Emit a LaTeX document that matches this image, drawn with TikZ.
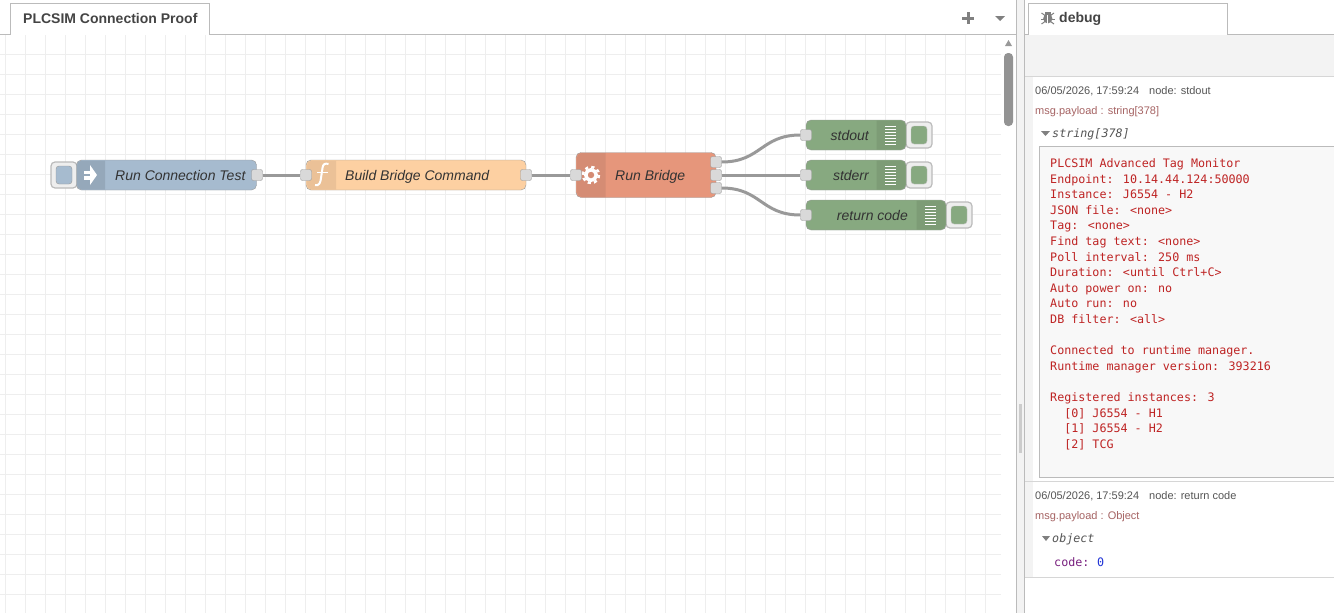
\documentclass[tikz,border=0pt]{standalone}
\usepackage{fontspec}
\setmainfont{Liberation Sans}
\newfontfamily\monofont{DejaVu Sans Mono}

\definecolor{gridgrey}{HTML}{EEEEEE}
\definecolor{edgegrey}{HTML}{BBBBBB}
\definecolor{nodeedge}{HTML}{999999}
\definecolor{panelgrey}{HTML}{F3F3F3}
\definecolor{injectblue}{HTML}{A6BBCF}
\definecolor{injecticon}{HTML}{95A8BA}
\definecolor{funcorange}{HTML}{FDD0A2}
\definecolor{funcicon}{HTML}{EBC197}
\definecolor{execred}{HTML}{E6967B}
\definecolor{execicon}{HTML}{D58C74}
\definecolor{debuggreen}{HTML}{87A980}
\definecolor{debugicon}{HTML}{7D9C76}
\definecolor{textgrey}{HTML}{333333}
\definecolor{tabtext}{HTML}{444444}
\definecolor{metagrey}{HTML}{555555}
\definecolor{msgbrown}{HTML}{A66464}
\definecolor{monored}{HTML}{BE2323}
\definecolor{keypurple}{HTML}{79217F}
\definecolor{valblue}{HTML}{2033D6}

\tikzset{
	flownode/.style={draw=nodeedge, rounded corners=5, inner sep=0, minimum height=30},
	port/.style={draw=nodeedge, fill=gray!30, rounded corners=2, inner sep=0, minimum size=11},
	wire/.style={draw=nodeedge, line width=3},
	btnbox/.style={draw=edgegrey, line width=1.2, fill=gridgrey, rounded corners=4, inner sep=0, minimum width=26, minimum height=26},
	btnface/.style={rounded corners=3, inner sep=0, minimum width=16, minimum height=18},
	flowlabel/.style={text=textgrey, inner sep=0, text height=10, text depth=0, font=\fontsize{14}{16}\selectfont\itshape},
	tablabel/.style={text=tabtext, inner sep=0, text height=10, text depth=0, font=\fontsize{14}{16}\selectfont\bfseries},
	metalabel/.style={text=metagrey, inner sep=0, text height=8, text depth=0, anchor=west, font=\fontsize{11}{12}\selectfont},
	msglabel/.style={text=msgbrown, inner sep=0, text height=8, text depth=0, anchor=west, font=\fontsize{11}{12}\selectfont},
	monolabel/.style={inner sep=0, anchor=west, font=\monofont\fontsize{11.7}{15.6}\selectfont},
	listbar/.style={draw=white, line width=11, dash pattern=on 1 off 2},
	tabedge/.style={draw=edgegrey, line width=1},
	rowedge/.style={draw=gridgrey!90!black, line width=1},
	caret/.style={fill=gray}
}

\begin{document}
\begin{tikzpicture}[x=1pt, y=-1pt]
	\useasboundingbox(0, 0) rectangle (1334, 613);
	\fill[white](0, 0) rectangle (1334, 613);

	%%%%%%%%%%%%%%%%%%%%%%%%%%%% canvas
	\begin{scope}[xshift=5.5pt, yshift=-14.5pt]
		\draw[gridgrey, line width=1, step=20pt](-5.5, 20.5) grid (995.5, 598.5);
	\end{scope}

	%%%%%%%%%%%%%%%%%%%%%%%%%%%% tab bar
	\draw[tabedge](0, 34.5) to (10.5, 34.5) to (10.5, 3.5) to (209.5, 3.5) to (209.5, 34.5) to (1016, 34.5);
	\node[tablabel, anchor=west](flowtab) at(23, 18.5){PLCSIM Connection Proof};
	\fill[gray](962, 16.5) rectangle (974, 19.5);
	\fill[gray](966.5, 12) rectangle (969.5, 24);
	\fill[caret](995, 16) to (1005, 16) to (1000, 21) to cycle;

	%%%%%%%%%%%%%%%%%%%%%%%%%%%% scroll bar
	\fill[gray!80](1005, 46) to (1012, 46) to (1008.5, 40) to cycle;
	\fill[gray!85, rounded corners=4](1004, 53) rectangle (1013, 126);

	%%%%%%%%%%%%%%%%%%%%%%%%%%%% separator
	\fill[panelgrey](1017, 0) rectangle (1025, 613);
	\draw[tabedge](1016.5, 0) to (1016.5, 613);
	\draw[tabedge](1024.5, 0) to (1024.5, 613);
	\fill[gray!40](1019, 404) rectangle (1022, 453);

	%%%%%%%%%%%%%%%%%%%%%%%%%%%% buttons
	\node[btnbox](testbtn) at(64, 175){};
	\node[btnbox](outbtn) at(919, 135){};
	\node[btnbox](errbtn) at(919, 175){};
	\node[btnbox](codebtn) at(959, 215){};
	\node[btnface, fill=injectblue, draw=nodeedge](testface) at(64, 175){};
	\node[btnface, fill=debuggreen, draw=nodeedge!60](outface) at(919, 135){};
	\node[btnface, fill=debuggreen, draw=nodeedge!60](errface) at(919, 175){};
	\node[btnface, fill=debuggreen, draw=nodeedge!60](codeface) at(959, 215){};

	%%%%%%%%%%%%%%%%%%%%%%%%%%%% inject
	\node[flownode, fill=injectblue, minimum width=180](test) at(166.5, 175){};
	\fill[injecticon, rounded corners=5](105, 160.5) to (77, 160.5) to (77, 189.5) [sharp corners] to (105, 189.5) to cycle;
	\fill[white](84, 170.5) rectangle (91, 174);
	\fill[white](84, 176) rectangle (91, 179.5);
	\fill[white](90, 165) to (97, 175) to (90, 185) to cycle;
	\node[flowlabel, anchor=west](testlabel) at(115, 175){Run Connection Test};

	%%%%%%%%%%%%%%%%%%%%%%%%%%%% function
	\node[flownode, fill=funcorange, minimum width=220](func) at(416, 175){};
	\fill[funcicon, rounded corners=5](336, 160.5) to (307, 160.5) to (307, 189.5) [sharp corners] to (336, 189.5) to cycle;
	\draw[white, line width=2](315, 185) .. controls (319, 186) and (320.5, 183) .. (321, 178) to (322.5, 168) .. controls (323, 164) and (325, 163) .. (328.5, 164);
	\draw[white, line width=1.6](317, 172.5) to (328, 172.5);
	\node[flowlabel, anchor=west](funclabel) at(345, 175){Build Bridge Command};

	%%%%%%%%%%%%%%%%%%%%%%%%%%%% exec
	\node[flownode, fill=execred, minimum width=140, minimum height=45](bridge) at(646, 175){};
	\fill[execicon, rounded corners=5](605.5, 153) to (577, 153) to (577, 197) [sharp corners] to (605.5, 197) to cycle;
	\draw[white, line width=3.5](591, 175) circle (5.25);
	\draw[white, line width=2.5, dash pattern=on 3.14 off 3.14](591, 175) circle (8);
	\node[flowlabel, anchor=west](bridgelabel) at(615, 175){Run Bridge};

	%%%%%%%%%%%%%%%%%%%%%%%%%%%% debug nodes
	\node[flownode, fill=debuggreen, minimum width=100](stdout) at(856, 135){};
	\fill[debugicon, rounded corners=5](876.5, 120.5) to (905.5, 120.5) to (905.5, 149.5) [sharp corners] to (876.5, 149.5) to cycle;
	\draw[listbar](890.5, 125.5) to (890.5, 145);
	\node[flowlabel, anchor=east](stdoutlabel) at(869, 135){stdout};

	\node[flownode, fill=debuggreen, minimum width=100](stderr) at(856, 175){};
	\fill[debugicon, rounded corners=5](876.5, 160.5) to (905.5, 160.5) to (905.5, 189.5) [sharp corners] to (876.5, 189.5) to cycle;
	\draw[listbar](890.5, 165.5) to (890.5, 185);
	\node[flowlabel, anchor=east](stderrlabel) at(869, 175){stderr};

	\node[flownode, fill=debuggreen, minimum width=140](retcode) at(876, 215){};
	\fill[debugicon, rounded corners=5](916.5, 200.5) to (945.5, 200.5) to (945.5, 229.5) [sharp corners] to (916.5, 229.5) to cycle;
	\draw[listbar](930.5, 205.5) to (930.5, 225);
	\node[flowlabel, anchor=east](retcodelabel) at(908, 215){return code};

	%%%%%%%%%%%%%%%%%%%%%%%%%%%% ports
	\node[port](testout) at(257, 175){};
	\node[port](funcin) at(306, 175){};
	\node[port](funcout) at(526, 175){};
	\node[port](bridgein) at(576, 175){};
	\node[port](bridgeouta) at(716, 162){};
	\node[port](bridgeoutb) at(716, 175){};
	\node[port](bridgeoutc) at(716, 188){};
	\node[port](stdoutin) at(806, 135){};
	\node[port](stderrin) at(806, 175){};
	\node[port](retcodein) at(806, 215){};

	%%%%%%%%%%%%%%%%%%%%%%%%%%%% wires
	\draw[wire](testout) to (funcin);
	\draw[wire](funcout) to (bridgein);
	\draw[wire](bridgeouta) .. controls (761, 162) and (761, 135) .. (stdoutin);
	\draw[wire](bridgeoutb) to (stderrin);
	\draw[wire](bridgeoutc) .. controls (761, 188) and (761, 215) .. (retcodein);

	%%%%%%%%%%%%%%%%%%%%%%%%%%%% debug panel
	\fill[panelgrey](1025, 35) rectangle (1334, 76);
	\draw[tabedge](1025, 34.5) to (1028.5, 34.5) to (1028.5, 3.5) to (1227.5, 3.5) to (1227.5, 34.5) to (1334, 34.5);
	\node[tablabel, anchor=west](debugtab) at(1059, 18){debug};
	\fill[gray](1047.8, 18.5) ellipse (4.6 and 5);
	\fill[gray](1044.5, 12) rectangle (1051, 15);
	\draw[gray, line width=1](1041.5, 13) to (1045, 15.5);
	\draw[gray, line width=1](1054, 13) to (1050.5, 15.5);
	\draw[gray, line width=1](1041, 19) to (1054.5, 19);
	\draw[gray, line width=1](1041.5, 24) to (1045, 21.5);
	\draw[gray, line width=1](1054, 24) to (1050.5, 21.5);
	\draw[white, line width=.8](1047.8, 15) to (1047.8, 24);

	\fill[panelgrey](1025, 77) rectangle (1033, 577);
	\draw[rowedge](1025, 76.5) to (1334, 76.5);
	\draw[rowedge](1025, 481.5) to (1334, 481.5);
	\draw[rowedge](1025, 577.5) to (1334, 577.5);

	%%%%%%%%%%%%%%%%%%%%%%%%%%%% first message
	\node[metalabel](stampa) at(1035, 90){06/05/2026, 17:59:24};
	\node[metalabel](sourcea) at(1149, 90){node: stdout};
	\node[msglabel](patha) at(1035, 110){msg.payload : string[378]};
	\fill[gray](1041, 131) to (1050, 131) to (1045.5, 136) to cycle;
	\node[monolabel, text=metagrey, font=\monofont\itshape\fontsize{11.7}{15.6}\selectfont](typea) at(1052, 134){string[378]};
	\fill[panelgrey!60!white](1039.5, 146.5) rectangle (1334, 477.5);
	\draw[tabedge](1334, 146.5) to (1039.5, 146.5) to (1039.5, 477.5) to (1334, 477.5);
	\node[monolabel, text=monored, anchor=north west, align=left](payload) at(1050, 158.5){PLCSIM Advanced Tag Monitor\\
		Endpoint: 10.14.44.124:50000\\
		Instance: J6554 - H2\\
		JSON file: <none>\\
		Tag: <none>\\
		Find tag text: <none>\\
		Poll interval: 250 ms\\
		Duration: <until Ctrl+C>\\
		Auto power on: no\\
		Auto run: no\\
		DB filter: <all>\\
		\strut\\
		Connected to runtime manager.\\
		Runtime manager version: 393216\\
		\strut\\
		Registered instances: 3\\
		\ \ [0] J6554 - H1\\
		\ \ [1] J6554 - H2\\
		\ \ [2] TCG};

	%%%%%%%%%%%%%%%%%%%%%%%%%%%% second message
	\node[metalabel](stampb) at(1035, 495){06/05/2026, 17:59:24};
	\node[metalabel](sourceb) at(1149, 495){node: return code};
	\node[msglabel](pathb) at(1035, 515){msg.payload : Object};
	\fill[gray](1042, 536) to (1050, 536) to (1046, 541) to cycle;
	\node[monolabel, text=metagrey, font=\monofont\itshape\fontsize{11.7}{15.6}\selectfont](typeb) at(1052, 539){object};
	\node[monolabel, text=keypurple](codekey) at(1054, 562){code:};
	\node[monolabel, text=valblue](codeval) at(1097, 562){0};
\end{tikzpicture}
\end{document}
